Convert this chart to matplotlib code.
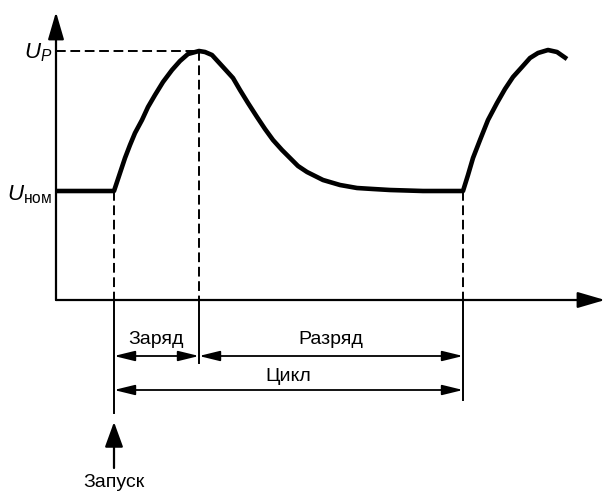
import matplotlib
matplotlib.use("Agg")
import matplotlib.pyplot as plt

plt.rcParams['font.family'] = ['Liberation Sans', 'DejaVu Sans']
plt.rcParams['mathtext.fontset'] = 'custom'
plt.rcParams['mathtext.rm'] = 'Liberation Sans'
plt.rcParams['mathtext.it'] = 'Liberation Sans:italic'

# voltage curve (time, voltage) in drawing units, origin at the axes corner
t_curve = [0, 58, 64, 69, 74, 79, 86, 92, 99, 107, 116, 124, 132, 143, 149,
           156, 167, 177, 184, 192, 201, 209, 217, 226, 234, 242, 251, 259,
           267, 284, 301, 317, 334, 367, 407, 412, 417, 424, 432, 441, 449,
           457, 466, 474, 482, 492, 501, 511]
u_curve = [109, 109, 127, 142, 155, 167, 180, 193, 205, 218, 230, 239, 246,
           249, 248, 245, 233, 222, 210, 197, 183, 171, 160, 150, 142, 134,
           128, 124, 120, 115, 112, 111, 110, 109, 109, 125, 142, 160, 180,
           197, 211, 223, 233, 242, 247, 250, 248, 241]

u_nom = 109
u_peak = 249
t_start = 58      # запуск
t_peak = 143      # конец заряда
t_end = 407       # конец цикла

t_max = 549
u_max = 288

# lower ends of the solid extension lines
ext_start = -113
ext_peak = -63
ext_end = -100

y_dim1 = -56      # Заряд / Разряд
y_dim2 = -90      # Цикл

fig = plt.figure(figsize=(6.07, 4.93), dpi=100)
ax = fig.add_axes([0, 0, 1, 1])
ax.set_xlim(-56, 551)
ax.set_ylim(-193, 300)
ax.axis('off')

# axes with arrows
ax.annotate('', xy=(0, u_max), xytext=(0, 0),
            arrowprops=dict(arrowstyle='-|>,head_length=1.2,head_width=0.35',
                            lw=1.6, color='black', mutation_scale=14,
                            shrinkA=0, shrinkB=0))
ax.annotate('', xy=(t_max, 0), xytext=(0, 0),
            arrowprops=dict(arrowstyle='-|>,head_length=1.2,head_width=0.35',
                            lw=1.6, color='black', mutation_scale=14,
                            shrinkA=0, shrinkB=0))

dash = (0, (5, 2.4))
ax.plot([0, t_peak], [u_peak, u_peak], color='black', lw=1.4, ls=dash)
ax.plot([t_start, t_start], [u_nom, 0], color='black', lw=1.4, ls=dash)
ax.plot([t_peak, t_peak], [u_peak, 0], color='black', lw=1.4, ls=dash)
ax.plot([t_end, t_end], [u_nom, 0], color='black', lw=1.4, ls=dash)

ax.plot([t_start, t_start], [0, ext_start], color='black', lw=1.4)
ax.plot([t_peak, t_peak], [0, ext_peak], color='black', lw=1.4)
ax.plot([t_end, t_end], [0, ext_end], color='black', lw=1.4)

ax.plot(t_curve, u_curve, color='black', lw=3.3, solid_joinstyle='round',
        solid_capstyle='butt')

dim = dict(arrowstyle='<|-|>,head_length=0.9,head_width=0.22', lw=1.3,
           color='black', mutation_scale=14, shrinkA=0, shrinkB=0)
ax.annotate('', xy=(t_start, y_dim1), xytext=(t_peak, y_dim1), arrowprops=dim)
ax.annotate('', xy=(t_peak, y_dim1), xytext=(t_end, y_dim1), arrowprops=dim)
ax.annotate('', xy=(t_start, y_dim2), xytext=(t_end, y_dim2), arrowprops=dim)

ax.text((t_start + t_peak) / 2, y_dim1 + 8, 'Заряд', ha='center', va='bottom',
        fontsize=14)
ax.text((t_peak + t_end) / 2, y_dim1 + 8, 'Разряд', ha='center', va='bottom',
        fontsize=14)
ax.text((t_start + t_end) / 2, y_dim2 + 5, 'Цикл', ha='center', va='bottom',
        fontsize=14)

# запуск
ax.annotate('', xy=(t_start, -122), xytext=(t_start, -168),
            arrowprops=dict(arrowstyle='-|>,head_length=1.1,head_width=0.4',
                            lw=1.6, color='black', mutation_scale=14,
                            shrinkA=0, shrinkB=0))
ax.text(t_start, -174, 'Запуск', ha='center', va='top', fontsize=14)

ax.text(-4, u_peak - 7, r'$U_P$', ha='right', va='baseline', fontsize=16)
ax.text(-4, u_nom - 9, r'$U_{\mathrm{ном}}$', ha='right', va='baseline',
        fontsize=16)

fig.savefig('out.png', dpi=100)
